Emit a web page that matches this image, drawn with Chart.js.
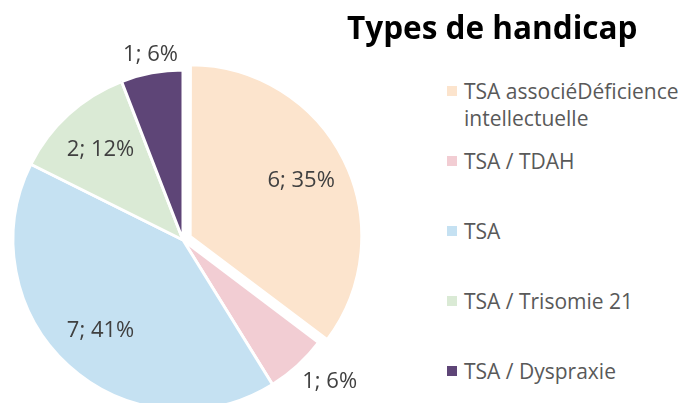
<!DOCTYPE html>
<html>
<head>
<meta charset="utf-8">
<script src="https://cdn.jsdelivr.net/npm/chart.js@4/dist/chart.umd.min.js"></script>
<style>
html, body { margin: 0; padding: 0; width: 689px; height: 403px; overflow: hidden; background: #fff; }
#pieWrap { position: absolute; left: 0; top: 0; width: 366px; height: 480px; }
#title { position: absolute; left: 347px; top: 5px; margin: 0; font: bold 31.5px 'Open Sans', sans-serif; color: #000; white-space: nowrap; }
#legend { position: absolute; left: 447px; top: 0; width: 260px; margin: 0; padding: 0; list-style: none; font: 21px 'Open Sans', sans-serif; color: #595959; }
#legend li { position: absolute; left: 0; width: 240px; line-height: 27px; padding-left: 17px; }
#legend li span { position: absolute; left: 0; top: 8px; width: 10px; height: 10px; }
</style>
</head>
<body>
<div id="pieWrap"><canvas id="pie"></canvas></div>
<h1 id="title">Types de handicap</h1>
<ul id="legend"></ul>
<script>
const categories = ['TSA associéDéficience intellectuelle', 'TSA / TDAH', 'TSA', 'TSA / Trisomie 21', 'TSA / Dyspraxie'];
const counts = [6, 1, 7, 2, 1];
const sliceColors = ['#FCE4CD', '#F2CDD3', '#C5E1F2', '#DAEAD5', '#5E4577'];
const sliceOffsets = [32, 0, 0, 0, 0];
const legendTops = [78, 148, 218, 288, 358];

// "value; percent" labels, inside big slices and outside small ones
const sliceLabels = {
    id: 'sliceLabels',
    afterDatasetsDraw(chart) {
        const ctx = chart.ctx;
        const data = chart.data.datasets[0].data;
        const total = data.reduce((a, b) => a + b, 0);
        ctx.save();
        ctx.font = '22px "Open Sans", sans-serif';
        ctx.fillStyle = '#404040';
        chart.getDatasetMeta(0).data.forEach((arc, i) => {
            const p = arc.getProps(['x', 'y', 'startAngle', 'endAngle', 'outerRadius']);
            const mid = (p.startAngle + p.endAngle) / 2;
            const cos = Math.cos(mid), sin = Math.sin(mid);
            const share = data[i] / total;
            const text = data[i] + '; ' + Math.round(share * 100) + '%';
            if (share >= 0.1) {
                const r = p.outerRadius * 0.72 + (sliceOffsets[i] || 0) * 0.3;
                ctx.textAlign = 'center';
                ctx.textBaseline = 'middle';
                ctx.fillText(text, p.x + cos * r, p.y + sin * r);
            } else {
                const r = p.outerRadius + 7;
                ctx.textAlign = Math.abs(cos) < 0.4 ? 'center' : (cos > 0 ? 'left' : 'right');
                ctx.textBaseline = sin > 0 ? 'top' : 'bottom';
                ctx.fillText(text, p.x + cos * r, p.y + sin * r);
            }
        });
        ctx.restore();
    }
};

// legend built from the chart's own legend items
const htmlLegend = {
    id: 'htmlLegend',
    afterUpdate(chart) {
        const ul = document.getElementById('legend');
        ul.innerHTML = '';
        const items = chart.options.plugins.legend.labels.generateLabels(chart);
        items.forEach((item, i) => {
            const li = document.createElement('li');
            li.style.top = legendTops[i] + 'px';
            const box = document.createElement('span');
            box.style.background = item.fillStyle;
            li.appendChild(box);
            li.appendChild(document.createTextNode(item.text));
            ul.appendChild(li);
        });
    }
};

new Chart(document.getElementById('pie'), {
    type: 'pie',
    data: {
        labels: categories,
        datasets: [{
            data: counts,
            backgroundColor: sliceColors,
            borderColor: '#FFFFFF',
            borderWidth: 3,
            offset: sliceOffsets,
            radius: 170
        }]
    },
    options: {
        responsive: true,
        maintainAspectRatio: false,
        animation: false,
        layout: { padding: 0 },
        plugins: {
            legend: { display: false },
            tooltip: { enabled: false }
        }
    },
    plugins: [sliceLabels, htmlLegend]
});
</script>
</body>
</html>
